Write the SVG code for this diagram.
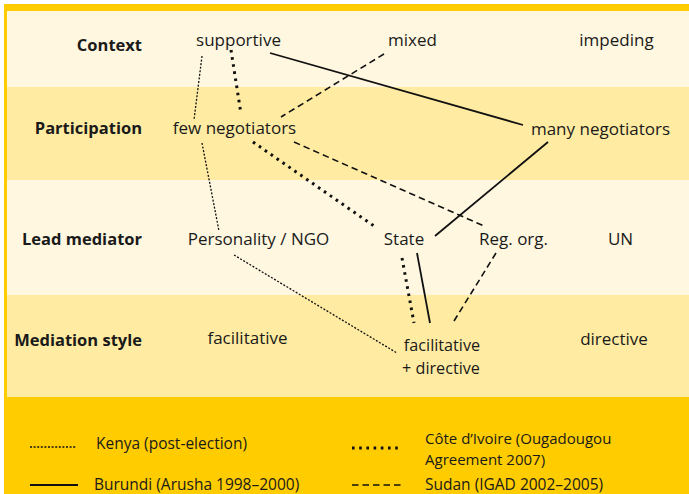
<svg xmlns="http://www.w3.org/2000/svg" width="689" height="494" viewBox="0 0 689 494">
<style>
text{font-family:"Open Sans","Noto Sans","Liberation Sans",sans-serif;fill:#1a1a1a}
.lab{font-size:16.5px;font-weight:bold;text-anchor:end}
.val{font-size:17px;text-anchor:middle}
.val2{font-size:16.2px;text-anchor:middle}
.leg{font-size:15.5px}
.leg2{font-size:15px}
.ln{fill:none;stroke:#111}
.kenya{stroke-width:1.3;stroke-dasharray:2 1.6}
.cote{stroke-width:3;stroke-dasharray:2.6 4.6}
.burundi{stroke-width:1.8}
.sudan{stroke-width:1.6;stroke-dasharray:6.5 4}
</style>
<rect x="0" y="0" width="689" height="494" fill="#ffffff"/>
<rect x="4" y="4" width="685" height="490" fill="#ffcc00"/>
<rect x="7" y="11" width="682" height="76" fill="#fff7e0"/>
<rect x="7" y="87" width="682" height="93" fill="#ffeca2"/>
<rect x="7" y="180" width="682" height="115" fill="#fff7e0"/>
<rect x="7" y="295" width="682" height="102" fill="#ffeca2"/>

<g id="connectors">
<line class="ln kenya" x1="202" y1="56" x2="194" y2="120"/>
<line class="ln kenya" x1="202" y1="143" x2="219" y2="231"/>
<line class="ln kenya" x1="234" y1="255" x2="397" y2="353"/>
<line class="ln cote" x1="231" y1="50" x2="241" y2="114"/>
<line class="ln cote" x1="253" y1="142" x2="374" y2="226"/>
<line class="ln cote" x1="402" y1="258" x2="414" y2="323"/>
<line class="ln burundi" x1="270" y1="53" x2="523" y2="125"/>
<line class="ln burundi" x1="548" y1="142" x2="435" y2="236"/>
<line class="ln burundi" x1="417" y1="253" x2="430" y2="323"/>
<line class="ln sudan" x1="384" y1="54" x2="281" y2="117"/>
<line class="ln sudan" x1="294" y1="142" x2="484" y2="226"/>
<line class="ln sudan" x1="496" y1="253" x2="454" y2="321"/>
</g>

<g id="row-labels">
<text class="lab" x="142" y="51">Context</text>
<text class="lab" x="142" y="134">Participation</text>
<text class="lab" x="142" y="245">Lead mediator</text>
<text class="lab" x="142" y="346">Mediation style</text>
</g>

<g id="n-supportive"><text class="val" x="238.5" y="46">supportive</text></g>
<g id="n-mixed"><text class="val" x="412.5" y="46">mixed</text></g>
<g id="n-impeding"><text class="val" x="616.5" y="46">impeding</text></g>
<g id="n-few"><text class="val" x="234.5" y="134">few negotiators</text></g>
<g id="n-many"><text class="val" x="600.5" y="135">many negotiators</text></g>
<g id="n-personality"><text class="val" x="258.5" y="245">Personality / NGO</text></g>
<g id="n-state"><text class="val" x="404" y="245">State</text></g>
<g id="n-regorg"><text class="val" x="513.5" y="245">Reg. org.</text></g>
<g id="n-un"><text class="val" x="620.5" y="245">UN</text></g>
<g id="n-facilitative"><text class="val" x="247.5" y="344">facilitative</text></g>
<g id="n-facdir"><text class="val2" x="442" y="351">facilitative</text><text class="val2" x="441" y="373.5">+ directive</text></g>
<g id="n-directive"><text class="val" x="614" y="345">directive</text></g>

<g id="legend">
<line class="ln kenya" x1="30" y1="447" x2="76" y2="447"/>
<text class="leg" x="96" y="449">Kenya (post-election)</text>
<line class="ln cote" x1="352" y1="448" x2="402" y2="448"/>
<text class="leg2" x="425" y="444">Côte d’Ivoire (Ougadougou</text>
<text class="leg2" x="425" y="465">Agreement 2007)</text>
<line class="ln burundi" x1="30" y1="485" x2="78" y2="485"/>
<text class="leg" x="94" y="490">Burundi (Arusha 1998–2000)</text>
<line class="ln sudan" x1="352" y1="485" x2="402" y2="485"/>
<text class="leg" x="425" y="490">Sudan (IGAD 2002–2005)</text>
</g>
</svg>
